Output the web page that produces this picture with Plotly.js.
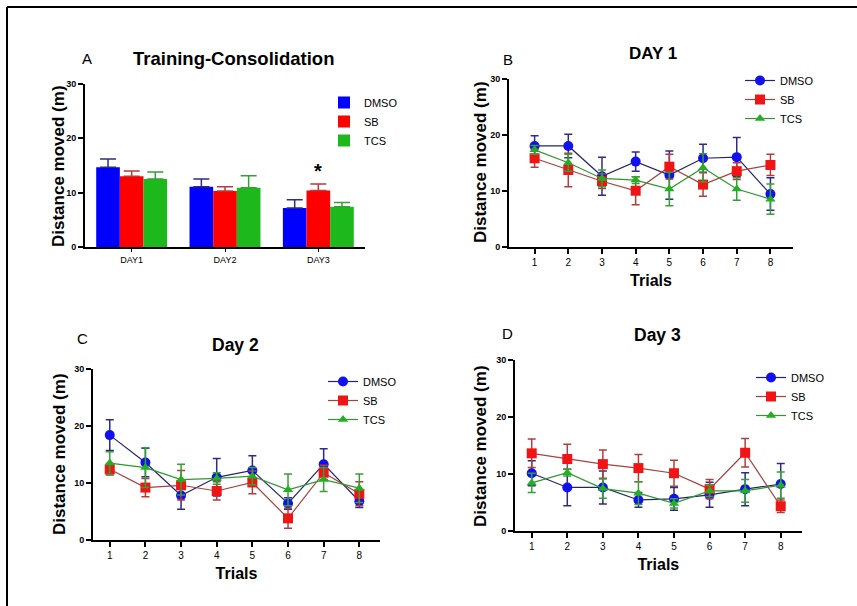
<!DOCTYPE html>
<html>
<head>
<meta charset="utf-8">
<script src="https://cdn.plot.ly/plotly-3.0.1.min.js"></script>
<style>html,body{margin:0;padding:0;background:#fff;}#chart{width:857px;height:606px;}</style>
</head>
<body>
<div id="chart"></div>
<script>
// ---- Panel A: bar chart data ----
const barDays = ['DAY1', 'DAY2', 'DAY3'];
const barDMSO = [14.7, 11.1, 7.2];
const barDMSOerr = [1.5, 1.4, 1.5];
const barSB = [13.0, 10.3, 10.4];
const barSBerr = [1.0, 0.8, 1.2];
const barTCS = [12.5, 10.9, 7.4];
const barTCSerr = [1.3, 2.2, 0.8];

// ---- Trials ----
const trials = [1, 2, 3, 4, 5, 6, 7, 8];

// ---- Panel B: Day 1 ----
const d1DMSO = [18.1, 18.1, 12.7, 15.3, 12.9, 15.9, 16.1, 9.5];
const d1DMSOerr = [1.8, 2.1, 3.4, 1.7, 4.3, 2.5, 3.5, 2.9];
const d1SB = [15.9, 13.8, 11.8, 10.1, 14.4, 11.2, 13.6, 14.7];
const d1SBerr = [1.6, 3.0, 1.3, 2.5, 2.2, 2.1, 1.5, 1.9];
const d1TCS = [17.4, 15.1, 12.3, 12.0, 10.4, 14.2, 10.4, 8.6];
const d1TCSerr = [0.8, 1.5, 1.5, 0.6, 3.0, 2.5, 2.0, 2.7];

// ---- Panel C: Day 2 ----
const d2DMSO = [18.4, 13.6, 7.8, 11.0, 12.2, 6.4, 13.3, 6.8];
const d2DMSOerr = [2.7, 2.5, 2.4, 3.3, 2.6, 1.0, 2.7, 1.1];
const d2SB = [12.4, 9.2, 9.6, 8.6, 10.1, 3.8, 11.8, 8.1];
const d2SBerr = [1.0, 1.6, 2.6, 1.6, 2.0, 1.75, 1.3, 2.1];
const d2TCS = [13.5, 12.7, 10.6, 10.8, 11.2, 8.8, 10.6, 9.1];
const d2TCSerr = [2.0, 3.5, 2.7, 1.0, 1.5, 2.8, 2.1, 2.5];

// ---- Panel D: Day 3 ----
const d3DMSO = [10.1, 7.6, 7.6, 5.4, 5.6, 6.3, 7.3, 8.2];
const d3DMSOerr = [2.2, 3.2, 2.9, 1.3, 2.0, 2.2, 2.9, 3.6];
const d3SB = [13.6, 12.6, 11.7, 11.0, 10.1, 7.3, 13.7, 4.3];
const d3SBerr = [2.5, 2.6, 2.5, 2.4, 2.3, 1.7, 2.5, 1.1];
const d3TCS = [8.4, 10.2, 7.4, 6.6, 4.8, 7.0, 7.0, 8.0];
const d3TCSerr = [1.7, 0.6, 1.7, 2.0, 0.8, 1.0, 2.0, 2.3];

const seriesNames = ['DMSO', 'SB', 'TCS'];
const yTitle = 'Distance moved (m)';

// ---- styles ----
const FONT = 'Arial, "Liberation Sans", sans-serif';
const markerCol = {DMSO: '#1010f0', SB: '#f01414', TCS: '#22b022'};
const lineCol = {DMSO: '#24246e', SB: '#a8403c', TCS: '#2e9a2e'};
const errCol = {DMSO: '#2c2c86', SB: '#b43c3c', TCS: '#36a036'};
const barCol = {DMSO: '#0000ff', SB: '#ff0000', TCS: '#1cb81c'};
const symbols = {DMSO: 'circle', SB: 'square', TCS: 'triangle-up'};
const msize = {DMSO: 10, SB: 10, TCS: 9};

const traces = [];

// bars
const barData = {DMSO: [barDMSO, barDMSOerr], SB: [barSB, barSBerr], TCS: [barTCS, barTCSerr]};
seriesNames.forEach(n => {
  traces.push({
    type: 'bar', x: barDays, y: barData[n][0], name: n,
    xaxis: 'x', yaxis: 'y', legend: 'legend',
    marker: {color: barCol[n], line: {width: 0}},
    error_y: {type: 'data', symmetric: false, array: barData[n][1],
              arrayminus: barData[n][1].map(() => 0),
              color: errCol[n], thickness: 1.5, width: 8},
    cliponaxis: false
  });
});

function addLines(data, xa, ya, lg) {
  seriesNames.forEach(n => {
    traces.push({
      type: 'scatter', mode: 'lines+markers', x: trials, y: data[n][0], name: n,
      xaxis: xa, yaxis: ya, legend: lg,
      line: {color: lineCol[n], width: 1.2},
      marker: {color: markerCol[n], symbol: symbols[n], size: msize[n], line: {width: 0}},
      error_y: {type: 'data', array: data[n][1], color: errCol[n], thickness: 1.5, width: 4},
      cliponaxis: false
    });
  });
}
addLines({DMSO: [d1DMSO, d1DMSOerr], SB: [d1SB, d1SBerr], TCS: [d1TCS, d1TCSerr]}, 'x2', 'y2', 'legend2');
addLines({DMSO: [d2DMSO, d2DMSOerr], SB: [d2SB, d2SBerr], TCS: [d2TCS, d2TCSerr]}, 'x3', 'y3', 'legend3');
addLines({DMSO: [d3DMSO, d3DMSOerr], SB: [d3SB, d3SBerr], TCS: [d3TCS, d3TCSerr]}, 'x4', 'y4', 'legend4');

const W = 857, H = 606;
const px = v => v / W;
const py = v => 1 - v / H;

function yAx(top, bottom) {
  return {
    domain: [py(bottom), py(top)], range: [0, 30], tickvals: [0, 10, 20, 30],
    showline: true, linewidth: 2, linecolor: '#000', ticks: 'outside', ticklen: 5,
    tickwidth: 2, tickcolor: '#000', showgrid: false, zeroline: false,
    tickfont: {family: FONT, size: 9, color: '#000', weight: 'bold'}
  };
}
function xAx(left, right, range, anchor) {
  return {
    domain: [px(left), px(right)], range: range, anchor: anchor,
    tickvals: trials, showline: true, linewidth: 2, linecolor: '#000',
    ticks: 'outside', ticklen: 5, tickwidth: 2, tickcolor: '#000',
    showgrid: false, zeroline: false,
    tickfont: {family: FONT, size: 10, color: '#000'},
    title: {text: 'Trials', standoff: 8, font: {family: FONT, size: 16, color: '#000', weight: 'bold'}}
  };
}
function lg(x, y) {
  return {x: px(x), y: py(y), xanchor: 'left', yanchor: 'top', bgcolor: 'rgba(0,0,0,0)',
          font: {family: FONT, size: 11, color: '#000'}, itemclick: false, tracegroupgap: 0};
}
function ann(text, x, y, size, bold, angle) {
  return {text: text, x: px(x), y: py(y), xref: 'paper', yref: 'paper', xanchor: 'center', yanchor: 'middle',
          showarrow: false, textangle: angle || 0,
          font: {family: FONT, size: size, color: '#000', weight: bold ? 'bold' : 'normal'}};
}

const layout = {
  width: W, height: H, margin: {l: 0, r: 0, t: 0, b: 0},
  paper_bgcolor: '#fff', plot_bgcolor: '#fff',
  barmode: 'group', bargap: 0.24, bargroupgap: 0,
  font: {family: FONT, color: '#000'},
  xaxis: {domain: [px(85), px(365)], anchor: 'y', type: 'category', range: [-0.5, 2.5],
          showline: true, linewidth: 2, linecolor: '#000', ticks: 'outside', ticklen: 3,
          tickwidth: 1, tickcolor: '#000', showgrid: false,
          tickfont: {family: FONT, size: 9, color: '#000'}},
  yaxis: Object.assign(yAx(84, 247), {anchor: 'x'}),
  xaxis2: xAx(509, 793, [0.24, 8.67], 'y2'),
  yaxis2: Object.assign(yAx(79.3, 247.3), {anchor: 'x2'}),
  xaxis3: xAx(93, 380, [0.53, 8.58], 'y3'),
  yaxis3: Object.assign(yAx(369, 540), {anchor: 'x3'}),
  xaxis4: xAx(515, 801.7, [0.53, 8.59], 'y4'),
  yaxis4: Object.assign(yAx(360, 530.7), {anchor: 'x4'}),
  legend: lg(324, 88),
  legend2: lg(740, 66),
  legend3: lg(323, 367),
  legend4: lg(751, 363),
  annotations: [
    ann('A', 87, 58, 15, false),
    ann('Training-Consolidation', 233, 58, 18.5, true),
    ann('B', 508, 59, 15, false),
    ann('DAY 1', 653, 53, 17, true),
    ann('C', 82, 338, 15, false),
    ann('Day 2', 235, 345, 17.5, true),
    ann('D', 507, 333, 15, false),
    ann('Day 3', 657, 335, 17.5, true),
    ann(yTitle, 58, 166, 17, true, -90),
    ann(yTitle, 480, 162, 17, true, -90),
    ann(yTitle, 59, 454, 17, true, -90),
    ann(yTitle, 480, 446, 17, true, -90),
    {text: '*', x: 'DAY3', y: 14.0, xref: 'x', yref: 'y', showarrow: false,
     font: {family: FONT, size: 20, weight: 'bold'}}
  ],
  shapes: [
    {type: 'line', xref: 'paper', yref: 'paper', x0: px(7), x1: 1, y0: py(7), y1: py(7), line: {color: '#000', width: 2}},
    {type: 'line', xref: 'paper', yref: 'paper', x0: px(7), x1: px(7), y0: py(7), y1: 0, line: {color: '#000', width: 2}}
  ]
};

Plotly.newPlot('chart', traces, layout, {displayModeBar: false, staticPlot: true});
</script>
</body>
</html>
